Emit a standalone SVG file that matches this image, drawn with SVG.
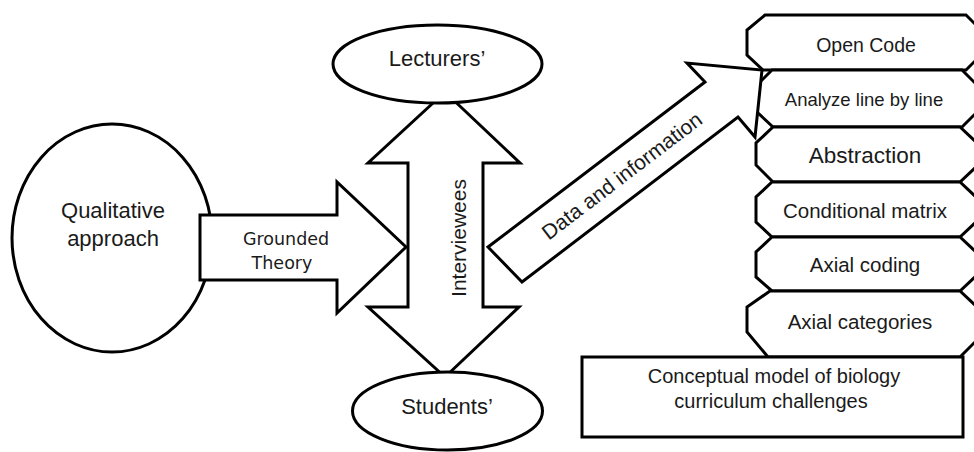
<svg xmlns="http://www.w3.org/2000/svg" width="974" height="452" viewBox="0 0 974 452">
<style>
  .shape { fill: #ffffff; stroke: #000000; stroke-width: 3; stroke-linejoin: miter; }
  .t { font-family: "Liberation Sans", Arial, sans-serif; fill: #1a1a1a; text-anchor: middle; }
  .v { font-family: "DejaVu Sans", Verdana, sans-serif; fill: #1a1a1a; text-anchor: middle; }
</style>
<rect x="0" y="0" width="974" height="452" fill="#ffffff"/>

<g id="qualitative">
  <ellipse class="shape" cx="112" cy="238" rx="100" ry="114"/>
  <text class="t" x="113" y="218" font-size="22">Qualitative</text>
  <text class="t" x="113" y="246" font-size="22">approach</text>
</g>

<g id="connectors">
  <g id="grounded-theory">
    <polygon class="shape" points="200,215 337,215 337,182 406,247 337,313 337,280 200,280"/>
    <text class="v" x="286" y="245" font-size="17.5">Grounded</text>
    <text class="v" x="282" y="269" font-size="17.5">Theory</text>
  </g>
  <g id="interviewees">
    <polygon class="shape" points="445,92 520,163 483,163 483,307 519,307 445,377 368,307 408,307 408,163 368,163"/>
    <text class="t" transform="translate(466,238) rotate(-90)" font-size="21">Interviewees</text>
  </g>
</g>

<g id="lecturers">
  <ellipse class="shape" cx="437.5" cy="64" rx="104.5" ry="39"/>
  <text class="t" x="437" y="66" font-size="22">Lecturers’</text>
</g>

<g id="students">
  <ellipse class="shape" cx="447.5" cy="411" rx="95" ry="39"/>
  <text class="t" x="447" y="414" font-size="22">Students’</text>
</g>

<g id="open-code">
  <polygon class="shape" points="765,15 966,15 980,29 980,56 966,70 763,70 747,55 747,30"/>
  <text class="t" x="866" y="52" font-size="19.5">Open Code</text>
</g>
<g id="analyze">
  <polygon class="shape" points="772,70 962,70 978,86 978,111 962,127 773,127 757,112 757,85"/>
  <text class="t" x="864" y="106" font-size="18.5">Analyze line by line</text>
</g>
<g id="abstraction">
  <polygon class="shape" points="773,127 960,127 977,143 977,166 960,182 773,182 756,165 756,143"/>
  <text class="t" x="865" y="163" font-size="22.5">Abstraction</text>
</g>
<g id="conditional-matrix">
  <polygon class="shape" points="772,182 960,182 977,198 977,221 960,237 772,237 756,222 756,197"/>
  <text class="t" x="865" y="218" font-size="20.5">Conditional matrix</text>
</g>
<g id="axial-coding">
  <polygon class="shape" points="772,237 960,237 977,253 977,275 960,291 772,291 756,277 756,252"/>
  <text class="t" x="865" y="272" font-size="20.5">Axial coding</text>
</g>
<g id="axial-categories">
  <polygon class="shape" points="770,291 960,291 977,307 977,340 960,357 768,357 747,332 747,307"/>
  <text class="t" x="860" y="329" font-size="20.5">Axial categories</text>
</g>

<g id="connectors-data">
  <g id="data-information">
    <polygon class="shape" points="488,247 705,82 687,63 762,70 755,137 738,117 522,282"/>
    <text class="t" transform="translate(622,176) rotate(-37.3)" y="7" font-size="21">Data and information</text>
  </g>
</g>

<g id="conceptual-model">
  <rect class="shape" x="582" y="357" width="381" height="80" stroke-width="3.5"/>
  <text class="t" x="774" y="383" font-size="20">Conceptual model of biology</text>
  <text class="t" x="771" y="408" font-size="20">curriculum challenges</text>
</g>
</svg>
